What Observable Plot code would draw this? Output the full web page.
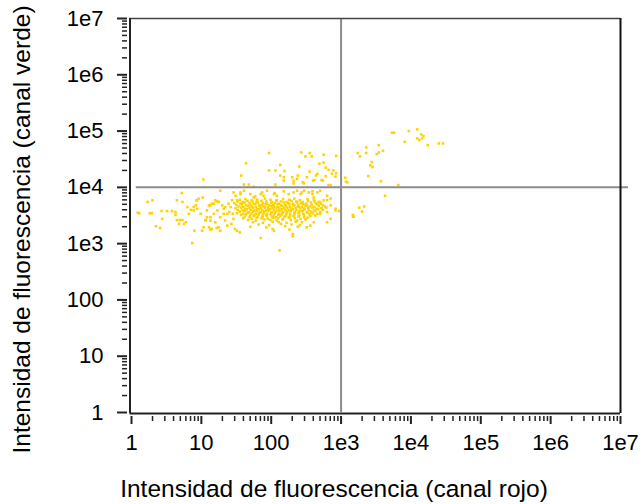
<!DOCTYPE html>
<html>
<head>
<meta charset="utf-8">
<script src="https://cdn.jsdelivr.net/npm/d3@7"></script>
<script src="https://cdn.jsdelivr.net/npm/@observablehq/plot@0.6"></script>
<style>
  html, body { margin: 0; padding: 0; background: #fff; }
  #chart { width: 642px; height: 504px; }
</style>
</head>
<body>
<div id="chart"></div>
<script>
// Axis ticks (log decades) and their labels
const decadeTicks = [1, 10, 100, 1e3, 1e4, 1e5, 1e6, 1e7];
const tickLabels = ["1", "10", "100", "1e3", "1e4", "1e5", "1e6", "1e7"];
const xTitle = "Intensidad de fluorescencia (canal rojo)";
const yTitle = "Intensidad de fluorescencia (canal verde)";
// Quadrant gates
const gateX = 1e3;
const gateY = 1e4;

// Events as [log10(red), log10(green)]
const upperLeft = [
  [1.97,4.61],[1.64,4.43],[1.03,4.14],[1.57,4.21],[2.43,4.62],[2.49,4.55],[2.55,4.61],[2.58,4.55],
  [2.75,4.58],[2.93,4.56],[2.69,4.42],[2.75,4.44],[2.13,4.40],[2.40,4.37],[1.97,4.30],[2.06,4.30],
  [2.19,4.29],[2.13,4.21],[2.18,4.18],[2.30,4.18],[2.32,4.12],[2.32,4.07],[2.55,4.28],[2.66,4.24],
  [2.64,4.21],[2.78,4.35],[2.82,4.31],[2.89,4.30],[2.93,4.25],[2.38,4.21],[2.45,4.09],[2.60,4.12],
  [2.62,4.13],[2.72,4.13],[2.74,4.12],[2.82,4.04],[2.85,4.04],[2.06,4.05],[1.61,4.05],[1.68,4.05],
  [1.75,4.01],[2.87,4.24],[2.92,4.19],[2.47,4.07],[2.18,4.12],[2.37,4.15],[2.51,4.18],[2.78,4.20]
];
const upperRight = [
  [3.06,4.17],[3.09,4.09],[3.07,4.10],[3.24,4.61],[3.27,4.55],[3.36,4.61],[3.36,4.71],[3.51,4.59],
  [3.54,4.62],[3.54,4.75],[3.60,4.65],[3.44,4.45],[3.42,4.39],[3.45,4.36],[3.39,4.20],[3.57,4.11],
  [3.82,4.04],[3.73,4.97],[3.76,4.97],[3.91,4.81],[3.97,5.00],[4.09,5.03],[4.15,4.94],[4.18,4.91],
  [4.09,4.87],[4.12,4.84],[4.16,4.87],[4.24,4.75],[4.40,4.78],[4.46,4.78]
];
const lowerRight = [
  [3.63,3.85],[3.26,3.64],[3.18,3.48],[3.30,3.57],[3.33,3.66],[3.17,3.51],[3.17,3.48]
];
const lowerLeftFringe = [
  [0.09,3.55],[0.11,3.54],[0.23,3.74],[0.30,3.77],[0.26,3.54],[0.29,3.54],[0.35,3.31],[0.41,3.28],
  [0.43,3.58],[0.51,3.58],[0.58,3.58],[0.63,3.56],[0.65,3.77],[0.72,3.90],[0.73,3.74],[0.65,3.42],
  [0.69,3.42],[0.73,3.42],[0.78,3.38],[0.85,3.60],[0.89,3.65],[0.93,3.77],[0.96,3.80],[0.87,3.01],
  [0.90,3.23],[1.01,3.23],[1.11,3.29],[0.99,3.53],[1.08,3.59],[1.13,3.68],[1.18,3.71],[1.23,3.75],
  [1.27,3.94],[1.06,3.42],[1.13,3.47],[1.13,3.25],[1.22,3.28],[1.27,3.23],[1.32,3.62],[1.37,3.53],
  [1.42,3.65],[1.49,3.85],[1.56,3.91],[1.51,3.77],[1.48,3.26],[1.85,3.10],[2.12,2.88],[2.31,3.13],
  [2.31,3.17],[2.51,3.29],[2.61,3.38],[2.70,3.53],[2.80,3.56],[2.92,3.59],[2.97,3.58],[2.70,3.74],
  [2.80,3.77],[2.85,3.68],[2.05,3.90],[2.32,3.91],[2.44,3.91],[2.54,3.91],[2.59,3.88],[2.66,3.91],
  [1.85,3.88],[1.89,3.85],[1.77,3.84],[1.51,3.23],[1.55,3.20],[2.04,3.23],[2.56,3.32],[2.80,3.38],
  [2.85,3.44],[2.92,3.62],[1.46,3.91],[1.56,3.88],[1.61,3.94],[1.70,3.88],[1.75,3.82],[1.87,3.91],
  [1.94,3.94],[2.04,3.88],[2.08,3.85],[2.18,3.93],[2.25,3.88],[2.37,3.94],[2.42,3.88],[2.47,3.94],
  [2.59,3.93],[2.70,3.94],[2.80,3.85],[2.85,3.80],[2.75,3.77],[2.61,3.82],[0.44,3.44],[0.68,3.35],
  [0.75,3.35],[0.63,3.51],[0.80,3.65],[0.82,3.53],[0.89,3.59],[0.94,3.62],[0.92,3.68],[1.02,3.82],
  [0.94,3.77],[1.03,3.29],[1.11,3.68],[1.15,3.71],[1.20,3.77],[1.25,3.74],[1.30,3.68],[1.23,3.59],
  [1.18,3.53],[1.08,3.47],[1.06,3.41],[1.13,3.41],[1.20,3.38],[1.27,3.47],[1.32,3.53],[1.34,3.41],
  [1.25,3.29],[1.15,3.26],[1.34,3.65],[1.39,3.71],[1.44,3.77],[1.40,3.56],[1.45,3.53],[1.46,3.44],
  [1.37,3.32],[1.43,3.35]
];
const lowerLeftCore = [
  [1.55,3.78],[1.63,3.79],[1.72,3.77],[1.80,3.78],[1.91,3.80],[1.99,3.78],[2.08,3.77],[2.17,3.79],[2.26,3.78],[2.33,3.80],[2.41,3.77],[2.52,3.79],[2.61,3.78],
  [1.52,3.75],[1.59,3.74],[1.66,3.76],[1.73,3.75],[1.79,3.74],[1.86,3.76],[1.93,3.75],[2.01,3.74],[2.07,3.76],[2.14,3.75],[2.22,3.74],[2.29,3.76],[2.36,3.75],[2.45,3.74],[2.53,3.76],[2.62,3.75],[2.68,3.74],
  [1.47,3.72],[1.56,3.71],[1.62,3.73],[1.69,3.72],[1.75,3.71],[1.81,3.73],[1.88,3.72],[1.94,3.71],[2.00,3.73],[2.05,3.72],[2.11,3.71],[2.18,3.73],[2.24,3.72],[2.31,3.71],[2.37,3.73],[2.43,3.72],[2.50,3.71],[2.57,3.73],[2.64,3.72],[2.71,3.71],
  [1.50,3.69],[1.58,3.70],[1.64,3.68],[1.70,3.69],[1.77,3.70],[1.83,3.68],[1.87,3.69],[1.92,3.70],[1.97,3.68],[2.03,3.69],[2.09,3.70],[2.14,3.68],[2.20,3.69],[2.26,3.70],[2.33,3.68],[2.39,3.69],[2.46,3.70],[2.51,3.68],[2.58,3.69],[2.66,3.70],[2.74,3.68],
  [1.53,3.66],[1.60,3.65],[1.67,3.67],[1.72,3.66],[1.78,3.65],[1.84,3.67],[1.89,3.66],[1.95,3.65],[2.00,3.67],[2.04,3.66],[2.10,3.65],[2.16,3.67],[2.21,3.66],[2.27,3.65],[2.32,3.67],[2.38,3.66],[2.44,3.65],[2.49,3.67],[2.55,3.66],[2.62,3.65],[2.68,3.67],[2.77,3.66],
  [1.49,3.63],[1.57,3.64],[1.63,3.62],[1.69,3.63],[1.74,3.64],[1.80,3.62],[1.85,3.63],[1.91,3.64],[1.96,3.62],[2.02,3.63],[2.07,3.64],[2.12,3.62],[2.18,3.63],[2.23,3.64],[2.29,3.62],[2.35,3.63],[2.41,3.64],[2.47,3.62],[2.53,3.63],[2.59,3.64],[2.65,3.62],[2.72,3.63],[2.79,3.64],
  [1.52,3.60],[1.59,3.59],[1.65,3.61],[1.71,3.60],[1.76,3.59],[1.82,3.61],[1.87,3.60],[1.93,3.59],[1.98,3.61],[2.04,3.60],[2.09,3.59],[2.15,3.61],[2.20,3.60],[2.25,3.59],[2.31,3.61],[2.36,3.60],[2.42,3.59],[2.48,3.61],[2.54,3.60],[2.61,3.59],[2.67,3.61],[2.74,3.60],
  [1.55,3.57],[1.62,3.58],[1.68,3.56],[1.74,3.57],[1.79,3.58],[1.85,3.56],[1.90,3.57],[1.96,3.58],[2.01,3.56],[2.06,3.57],[2.12,3.58],[2.17,3.56],[2.23,3.57],[2.28,3.58],[2.34,3.56],[2.40,3.57],[2.45,3.58],[2.51,3.56],[2.57,3.57],[2.63,3.58],[2.70,3.56],
  [1.51,3.54],[1.60,3.53],[1.66,3.55],[1.72,3.54],[1.78,3.53],[1.83,3.55],[1.89,3.54],[1.94,3.53],[2.00,3.55],[2.05,3.54],[2.11,3.53],[2.16,3.55],[2.22,3.54],[2.27,3.53],[2.33,3.55],[2.39,3.54],[2.46,3.53],[2.52,3.55],[2.59,3.54],[2.66,3.53],
  [1.57,3.51],[1.64,3.52],[1.70,3.50],[1.76,3.51],[1.82,3.52],[1.88,3.50],[1.93,3.51],[1.99,3.52],[2.04,3.50],[2.10,3.51],[2.15,3.52],[2.21,3.50],[2.27,3.51],[2.33,3.52],[2.40,3.50],[2.47,3.51],[2.55,3.52],[2.63,3.50],
  [1.62,3.48],[1.69,3.47],[1.75,3.49],[1.81,3.48],[1.87,3.47],[1.94,3.49],[2.01,3.48],[2.07,3.47],[2.13,3.49],[2.19,3.48],[2.26,3.47],[2.32,3.49],[2.39,3.48],[2.47,3.47],[2.56,3.49],
  [1.60,3.45],[1.72,3.44],[1.79,3.46],[1.86,3.45],[1.95,3.44],[2.03,3.46],[2.10,3.45],[2.17,3.44],[2.25,3.46],[2.34,3.45],[2.42,3.44],[2.52,3.46],
  [1.67,3.42],[1.78,3.41],[1.90,3.43],[1.99,3.42],[2.08,3.41],[2.16,3.43],[2.28,3.42],[2.37,3.41],[2.49,3.43],
  [1.74,3.38],[1.88,3.37],[2.02,3.39],[2.11,3.38],[2.22,3.37],[2.35,3.39],[2.44,3.38],
  [1.82,3.34],[1.97,3.33],[2.14,3.35],[2.29,3.34],[2.41,3.33],
  [1.70,3.30],[1.93,3.29],[2.20,3.31],[2.38,3.30],
  [2.02,3.26],[2.26,3.25]
];

const events = [...upperLeft, ...upperRight, ...lowerRight, ...lowerLeftFringe, ...lowerLeftCore]
  .map(([lx, ly]) => ({red: 10 ** lx, green: 10 ** ly}));

// minor ticks 2..9 within each decade
const minorTicks = [];
for (const d of decadeTicks.slice(0, -1)) for (let k = 2; k <= 9; k++) minorTicks.push(d * k);

const fmt = d => tickLabels[decadeTicks.indexOf(d)];
const ink = "#222";
const gateColor = "#8c8c8c";

const chart = Plot.plot({
  width: 642,
  height: 504,
  marginLeft: 131,
  marginRight: 22,
  marginTop: 18,
  marginBottom: 92,
  style: {fontFamily: "'Liberation Sans', Arial, sans-serif", background: "#fff", color: "#000"},
  x: {type: "log", domain: [1, 1e7]},
  y: {type: "log", domain: [1, 1e7]},
  marks: [
    // data
    Plot.dot(events, {x: "red", y: "green", symbol: "square", r: 1.45, fill: "#ffd200", stroke: null}),
    // gate lines
    Plot.ruleX([gateX], {y1: 1, y2: 1e7, stroke: gateColor, strokeWidth: 2}),
    Plot.ruleY([gateY], {x1: 1.17, x2: 1.3e7, stroke: gateColor, strokeWidth: 2}),
    // frame
    Plot.ruleY([1e7], {x1: 0.95, x2: 1e7, stroke: "#444", strokeWidth: 1.5}),
    Plot.ruleX([1e7], {y1: 0.96, y2: 1e7, stroke: "#111", strokeWidth: 2}),
    Plot.ruleX([1], {y1: 0.96, y2: 1e7, dx: -1.5, stroke: ink, strokeWidth: 2}),
    Plot.ruleY([1], {x1: 0.95, x2: 1e7, dy: 1, stroke: ink, strokeWidth: 2}),
    // y axis
    Plot.axisY(minorTicks, {tickSize: 5, dx: -4, tickFormat: () => "", stroke: ink, strokeWidth: 1.5, label: null}),
    Plot.axisY(decadeTicks, {tickSize: 10, dx: -4, tickPadding: 14, tickFormat: fmt, fontSize: 22, stroke: ink, strokeWidth: 2, fill: "#000", label: null}),
    // x axis
    Plot.axisX(minorTicks, {tickSize: 5, dy: 4, tickFormat: () => "", stroke: ink, strokeWidth: 1.5, label: null}),
    Plot.axisX(decadeTicks, {tickSize: 8, dy: 4, tickPadding: 10, tickFormat: fmt, fontSize: 22, stroke: ink, strokeWidth: 2, fill: "#000", label: null}),
    // titles
    Plot.text([xTitle], {text: d => d, frameAnchor: "bottom", textAnchor: "middle", dx: -42, dy: 77, lineAnchor: "middle", fontSize: 24.5, fill: "#000"}),
    Plot.text([yTitle], {text: d => d, frameAnchor: "left", textAnchor: "middle", dx: -109, dy: 14, rotate: -90, lineAnchor: "middle", fontSize: 24.5, fill: "#000"})
  ]
});
document.getElementById("chart").append(chart);
</script>
</body>
</html>
